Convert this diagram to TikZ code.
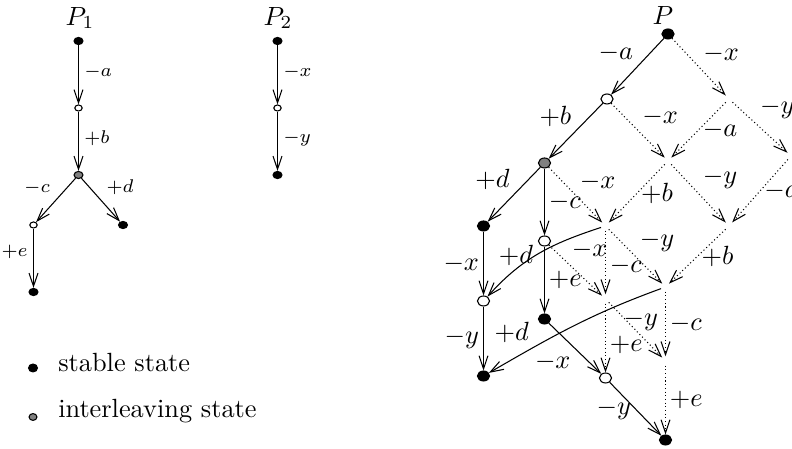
\documentclass[tikz,border=0pt]{standalone}
\usetikzlibrary{arrows.meta, shapes.geometric}
\tikzset{
  stable/.style={ellipse, draw, fill=black, inner sep=0pt,
                 minimum width=4.6pt, minimum height=3.8pt},
  inter/.style={stable, fill=gray},
  plain/.style={stable, fill=white},
  small/.style={minimum width=3.4pt, minimum height=2.7pt},
  tiny/.style={minimum width=2.8pt, minimum height=2.3pt},
  hidden/.style={circle, inner sep=0pt, minimum size=3.2pt},
  trans/.style={-{Straight Barb[length=5pt, width=3.4pt]}},
  weak/.style={trans, densely dotted},
  lbl/.style={font=\normalsize, inner sep=1.5pt},
  slbl/.style={font=\scriptsize, inner sep=2pt}
}
\begin{document}
\begin{tikzpicture}[x=0.38pt, y=-0.38pt]
  \useasboundingbox (0,0) rectangle (792,449);

  % P_1
  \node (t1) at (80,18) {$P_1$};
  \node[stable, small] (a0) at (78.5,41) {};
  \node[plain, tiny] (a1) at (78.5,108) {};
  \node[inter, small] (a2) at (78.5,175) {};
  \node[plain, tiny] (a3) at (33.5,225) {};
  \node[stable, small] (a4) at (123,225) {};
  \node[stable, small] (a5) at (33.5,292) {};
  \draw[trans] (a0) -- (a1) node[slbl, pos=0.45, right] {$-a$};
  \draw[trans] (a1) -- (a2) node[slbl, pos=0.45, right] {$+b$};
  \draw[trans] (a2) -- (a3) node[slbl, midway, above left] {$-c$};
  \draw[trans] (a2) -- (a4) node[slbl, midway, above right] {$+d$};
  \draw[trans] (a3) -- (a5) node[slbl, pos=0.4, left] {$+e$};

  % P_2
  \node (t2) at (278,18) {$P_2$};
  \node[stable, small] (b0) at (277.5,41) {};
  \node[plain, tiny] (b1) at (277.5,108) {};
  \node[stable, small] (b2) at (277.5,175) {};
  \draw[trans] (b0) -- (b1) node[slbl, pos=0.45, right] {$-x$};
  \draw[trans] (b1) -- (b2) node[slbl, pos=0.45, right] {$-y$};

  % legend
  \node[stable, minimum width=3.4pt, minimum height=3pt] (k1) at (33,368) {};
  \node[anchor=base west] (k1t) at (49,372) {stable state};
  \node[inter, minimum width=3pt, minimum height=2.6pt] (k2) at (33,417) {};
  \node[anchor=base west] (k2t) at (49,418) {interleaving state};

  % P
  \node (t3) at (663,16) {$P$};
  \node[stable] (r0) at (668,34) {};
  \node[plain] (r1) at (607,99) {};
  \node[inter] (r2) at (544.5,163) {};
  \node[stable] (r3) at (483.5,226) {};
  \node[plain] (r4) at (544.5,241) {};
  \node[stable] (r5) at (544.5,319) {};
  \node[plain] (r6) at (483.5,301) {};
  \node[stable] (r7) at (483.5,376) {};
  \node[plain] (r8) at (605.5,378) {};
  \node[stable] (r9) at (665.5,440) {};
  \node[hidden] (g1) at (729,99) {};
  \node[hidden] (g2) at (668,161) {};
  \node[hidden] (g3) at (791,156) {};
  \node[hidden] (g4) at (605.5,226) {};
  \node[hidden] (g5) at (729,226) {};
  \node[hidden] (g6) at (665.5,287) {};
  \node[hidden] (g7) at (605.5,299) {};
  \node[hidden] (g8) at (665.5,361) {};

  \foreach \a/\b/\t/\w in {r0/r1/-a/above left, r1/r2/+b/above left,
      r2/r3/+d/above left, r2/r4/-c/right, r4/r5/+e/right,
      r3/r6/-x/left, r6/r7/-y/left, r5/r8/-x/below left, r8/r9/-y/left}
    \draw[trans] (\a) -- (\b) node[lbl, midway, \w] {$\t$};

  \foreach \a/\b/\t/\w/\p in {r0/g1/-x/above right/0.5, r1/g2/-x/above right/0.5,
      g1/g2/-a/right/0.5, g1/g3/-y/above right/0.42, r2/g4/-x/above right/0.5,
      g2/g4/+b/right/0.5, g2/g5/-y/above right/0.5, g3/g5/-a/right/0.5,
      g4/g7/-c/right/0.55, g4/g6/-y/above right/0.5, g5/g6/+b/right/0.5,
      r4/g7/-x/above right/0.35, g6/g8/-c/right/0.5, g7/g8/-y/above/0.6,
      g7/r8/+e/right/0.6, g8/r9/+e/right/0.5}
    \draw[weak] (\a) -- (\b) node[lbl, pos=\p, \w] {$\t$};

  \draw[trans] (g4) to[out=198, in=48] node[lbl, pos=0.72, above, inner sep=1pt] {$+d$} (r6);
  \draw[trans] (g6) to[out=200, in=30] node[lbl, pos=0.75, above left] {$+d$} (r7);
\end{tikzpicture}
\end{document}
